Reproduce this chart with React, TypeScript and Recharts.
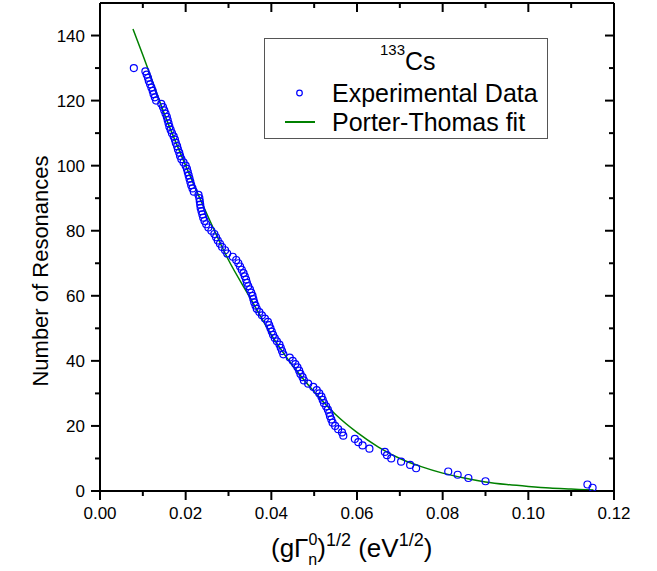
import React from "react";
import {
  ComposedChart,
  Scatter,
  Line,
  XAxis,
  YAxis,
  ReferenceLine,
  Legend,
  Label,
} from "recharts";

// experimental cumulative counts (N with amplitude above x)
const EXP_N = [
  130, 129, 128, 127, 126, 125, 124, 123, 122, 121,
  120, 119, 118, 117, 116, 115, 114, 113, 112, 111,
  110, 109, 108, 107, 106, 105, 104, 103, 102, 101,
  100, 99, 98, 97, 96, 95, 94, 93, 92, 91,
  90, 89, 88, 87, 86, 85, 84, 83, 82, 81,
  80, 79, 78, 77, 76, 75, 74, 73, 72, 71,
  70, 69, 68, 67, 66, 65, 64, 63, 62, 61,
  60, 59, 58, 57, 56, 55, 54, 53, 52, 51,
  50, 49, 48, 47, 46, 45, 44, 43, 42, 41,
  40, 39, 38, 37, 36, 35, 34, 33, 32, 31,
  30, 29, 28, 27, 26, 25, 24, 23, 22, 21,
  20, 19, 18, 17, 16, 15, 14, 13, 12, 11,
  10, 9, 8, 7, 6, 5, 4, 3, 2, 1,
];
const EXP_X = [
  0.0079, 0.0106, 0.0109, 0.0112, 0.0114, 0.0117, 0.012, 0.0123, 0.0125, 0.0128,
  0.0131, 0.0143, 0.0147, 0.015, 0.0153, 0.0156, 0.0158, 0.016, 0.0162, 0.0165,
  0.0168, 0.0172, 0.0175, 0.0177, 0.018, 0.0182, 0.0185, 0.0187, 0.019, 0.0195,
  0.02, 0.0203, 0.0205, 0.0207, 0.0209, 0.0211, 0.0213, 0.0216, 0.0219, 0.023,
  0.0232, 0.0233, 0.0234, 0.0235, 0.0237, 0.0239, 0.0241, 0.0244, 0.0248, 0.0253,
  0.026, 0.0267, 0.0271, 0.0275, 0.028, 0.0285, 0.0292, 0.0297, 0.031, 0.0318,
  0.0323, 0.0327, 0.0331, 0.0335, 0.0338, 0.0341, 0.0343, 0.0346, 0.035, 0.0353,
  0.0356, 0.0358, 0.036, 0.0363, 0.0366, 0.0372, 0.0378, 0.0385, 0.0392, 0.0395,
  0.0398, 0.0401, 0.0404, 0.0408, 0.0413, 0.0419, 0.0422, 0.0425, 0.0428, 0.0443,
  0.045, 0.0456, 0.0461, 0.0465, 0.0468, 0.0473, 0.0476, 0.0486, 0.0498, 0.0506,
  0.0512, 0.0517, 0.052, 0.0523, 0.0528, 0.0532, 0.0535, 0.0537, 0.054, 0.0543,
  0.0549, 0.0556, 0.0565, 0.0568, 0.0595, 0.0603, 0.0613, 0.0629, 0.0665, 0.067,
  0.068, 0.0703, 0.0724, 0.0738, 0.0813, 0.0835, 0.086, 0.09, 0.1138, 0.115,
];

// Porter-Thomas fit
const FIT_X = [
  0.0077, 0.01, 0.015, 0.02, 0.025, 0.03, 0.035, 0.04, 0.045, 0.05, 0.055, 0.06,
  0.065, 0.07, 0.075, 0.08, 0.085, 0.09, 0.095, 0.1, 0.105, 0.11, 0.1152,
];
const FIT_Y = [
  142, 134, 116, 100, 85, 71, 59.5, 48, 38.5, 30.5, 23.5, 18,
  13.5, 10, 7.5, 5.5, 4, 2.8, 2, 1.4, 0.9, 0.6, 0.3,
];

const X_TICKS = [0, 0.01, 0.02, 0.03, 0.04, 0.05, 0.06, 0.07, 0.08, 0.09, 0.1, 0.11, 0.12];
const X_TICK_LABELS = ["0.00", "", "0.02", "", "0.04", "", "0.06", "", "0.08", "", "0.10", "", "0.12"];
const Y_TICKS = [0, 10, 20, 30, 40, 50, 60, 70, 80, 90, 100, 110, 120, 130, 140];
const Y_TICK_LABELS = ["0", "", "20", "", "40", "", "60", "", "80", "", "100", "", "120", "", "140"];

const EXP_NAME = "Experimental Data";
const FIT_NAME = "Porter-Thomas fit";

const W = 657;
const H = 571;
const Y_AXIS_W = 100;
const X_AXIS_H = 80;
const MARGIN = { top: 3, right: 43, bottom: 0, left: 0 };
const PLOT_TOP = MARGIN.top;
const PLOT_RIGHT = W - MARGIN.right;
const FONT = '"Liberation Sans", Arial, sans-serif';
const BLUE = "#0000ff";
const GREEN = "#008000";

const expData = EXP_X.map((x, i) => ({ x, y: EXP_N[i] }));
const fitData = FIT_X.map((x, i) => ({ x, y: FIT_Y[i] }));

function XTick(props: any) {
  const { x, y, index } = props;
  const label = X_TICK_LABELS[index];
  const len = label ? 9 : 5;
  return (
    <g>
      <line x1={x} x2={x} y1={y} y2={y + len} stroke="#000" strokeWidth={2} />
      <line x1={x} x2={x} y1={PLOT_TOP} y2={PLOT_TOP + len} stroke="#000" strokeWidth={2} />
      {label && (
        <text x={x} y={y + 28} textAnchor="middle" fontSize={17} fontFamily={FONT} fill="#000">
          {label}
        </text>
      )}
    </g>
  );
}

function YTick(props: any) {
  const { x, y, index } = props;
  const label = Y_TICK_LABELS[index];
  const len = label ? 9 : 5;
  return (
    <g>
      <line x1={x - len} x2={x} y1={y} y2={y} stroke="#000" strokeWidth={2} />
      <line x1={PLOT_RIGHT - len} x2={PLOT_RIGHT} y1={y} y2={y} stroke="#000" strokeWidth={2} />
      {label && (
        <text x={x - 15} y={y + 6} textAnchor="end" fontSize={17} fontFamily={FONT} fill="#000">
          {label}
        </text>
      )}
    </g>
  );
}

const Ring = (p: any) => (
  <circle cx={p.cx} cy={p.cy} r={3.5} fill="none" stroke={BLUE} strokeWidth={1.2} />
);

function XTitle(props: any) {
  const vb = props.viewBox || { x: Y_AXIS_W, y: H - X_AXIS_H, width: 514 };
  const x0 = vb.x + vb.width / 2 - 86;
  const yb = vb.y + 66;
  return (
    <text x={x0} y={yb} fontSize={26} fontFamily={FONT} fill="#000">
      (gΓ
      <tspan fontSize={16} dy={-12}>0</tspan>
      <tspan fontSize={16} dx={-9} dy={20}>n</tspan>
      <tspan dy={-8}>)</tspan>
      <tspan fontSize={18} dy={-11}>1/2</tspan>
      <tspan dy={11}> (eV</tspan>
      <tspan fontSize={18} dy={-11}>1/2</tspan>
      <tspan dy={11}>)</tspan>
    </text>
  );
}

function YTitle() {
  return (
    <text
      transform="translate(48, 271) rotate(-90)"
      textAnchor="middle"
      fontSize={22}
      fontFamily={FONT}
      fill="#000"
    >
      Number of Resonances
    </text>
  );
}

function LegendBox() {
  return (
    <svg width={285} height={102} style={{ display: "block", overflow: "visible" }}>
      <rect x={0.5} y={0.5} width={283} height={100} fill="#fff" stroke="#555" strokeWidth={1} />
      <text x={116} y={32} fontFamily={FONT} fill="#000">
        <tspan fontSize={15} dy={-15}>133</tspan>
        <tspan fontSize={25} dy={15}>Cs</tspan>
      </text>
      <circle cx={35.5} cy={55} r={2.8} fill="none" stroke={BLUE} strokeWidth={1.2} />
      <text x={68} y={64} fontSize={25} fontFamily={FONT} fill="#000">{EXP_NAME}</text>
      <line x1={21} x2={51} y1={84} y2={84} stroke={GREEN} strokeWidth={2} />
      <text x={68} y={93} fontSize={25} fontFamily={FONT} fill="#000">{FIT_NAME}</text>
    </svg>
  );
}

export default function App() {
  return (
    <div style={{ position: "absolute", left: 0, top: 0, width: W, height: H, background: "#fff" }}>
      <ComposedChart width={W} height={H} margin={MARGIN}>
        <XAxis
          type="number"
          dataKey="x"
          domain={[0, 0.12]}
          ticks={X_TICKS}
          interval={0}
          height={X_AXIS_H}
          tickSize={0}
          tickMargin={0}
          tickLine={false}
          tick={(p: any) => <XTick {...p} />}
          axisLine={{ stroke: "#000", strokeWidth: 2 }}
          allowDataOverflow
        >
          <Label content={(p: any) => <XTitle {...p} />} />
        </XAxis>
        <YAxis
          type="number"
          dataKey="y"
          domain={[0, 150]}
          ticks={Y_TICKS}
          interval={0}
          width={Y_AXIS_W}
          tickSize={0}
          tickMargin={0}
          tickLine={false}
          tick={(p: any) => <YTick {...p} />}
          axisLine={{ stroke: "#000", strokeWidth: 2 }}
          allowDataOverflow
        >
          <Label content={() => <YTitle />} />
        </YAxis>
        <ReferenceLine y={150} stroke="#000" strokeWidth={2} ifOverflow="visible" />
        <ReferenceLine x={0.12} stroke="#000" strokeWidth={2} ifOverflow="visible" />
        <Legend
          layout="horizontal"
          verticalAlign="middle"
          align="center"
          wrapperStyle={{ left: 264, top: 38, width: 285, height: 102 }}
          content={() => <LegendBox />}
        />
        <Scatter
          name={EXP_NAME}
          data={expData}
          dataKey="y"
          shape={Ring}
          isAnimationActive={false}
        />
        <Line
          name={FIT_NAME}
          data={fitData}
          dataKey="y"
          type="monotone"
          stroke={GREEN}
          strokeWidth={1.5}
          dot={false}
          activeDot={false}
          isAnimationActive={false}
        />
      </ComposedChart>
    </div>
  );
}
